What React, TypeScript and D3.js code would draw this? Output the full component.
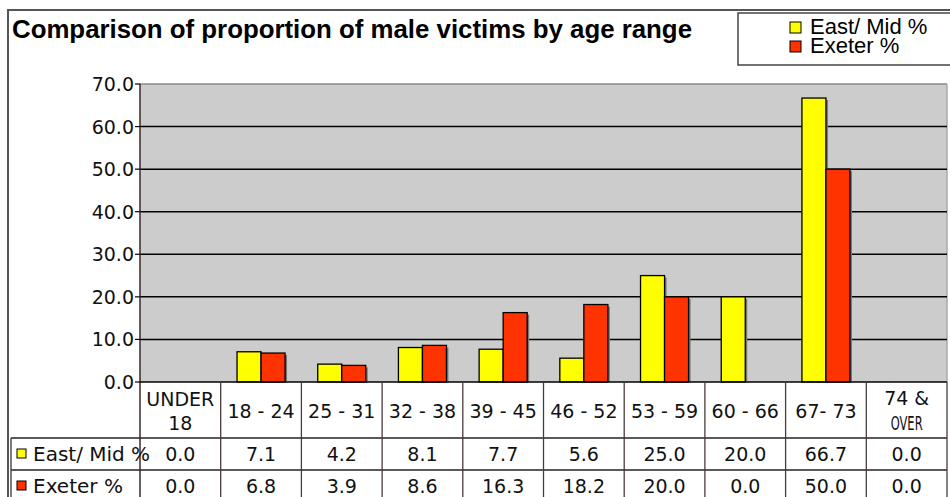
import { useEffect, useRef } from 'react';
import * as d3 from 'd3';

const categories = ['UNDER 18', '18 - 24', '25 - 31', '32 - 38', '39 - 45', '46 - 52', '53 - 59', '60 - 66', '67- 73', '74 & OVER'];
const seriesNames = ['East/ Mid %', 'Exeter %'];
const eastMid = [0.0, 7.1, 4.2, 8.1, 7.7, 5.6, 25.0, 20.0, 66.7, 0.0];
const exeter = [0.0, 6.8, 3.9, 8.6, 16.3, 18.2, 20.0, 0.0, 50.0, 0.0];
const yTicks = [0, 10, 20, 30, 40, 50, 60, 70];
const seriesColors = ['#ffff00', '#ff3300'];

export default function App() {
  const svgRef = useRef<SVGSVGElement>(null);

  useEffect(() => {
    if (!svgRef.current) return;
    const W = 950;
    const H = 497;
    const plot = { left: 140, right: 947, top: 84, bottom: 382 };
    const rowTops = [382, 438, 470, 502];
    const tableFont = '"DejaVu Sans", Verdana, sans-serif';
    const titleFont = '"Liberation Sans", Arial, sans-serif';

    const svg = d3.select(svgRef.current);
    svg.selectAll('*').remove();
    svg.attr('width', W).attr('height', H);

    svg.append('rect').attr('width', W).attr('height', H).attr('fill', '#fff');

    // outer frame
    svg.append('rect')
      .attr('x', 8).attr('y', 10).attr('width', 960).attr('height', 520)
      .attr('fill', 'none').attr('stroke', '#555').attr('stroke-width', 2);

    const x = d3.scaleBand<string>().domain(categories).range([plot.left, plot.right]).padding(0);
    const xs = d3.scaleBand<string>().domain(seriesNames).range([0, x.bandwidth()]).paddingInner(0).paddingOuter(0.68);
    const y = d3.scaleLinear().domain([0, 70]).range([plot.bottom, plot.top]);

    // plot background
    svg.append('rect')
      .attr('x', plot.left).attr('y', plot.top)
      .attr('width', plot.right - plot.left).attr('height', plot.bottom - plot.top)
      .attr('fill', '#cccccc');
    svg.append('line')
      .attr('x1', plot.left).attr('x2', plot.right).attr('y1', plot.top).attr('y2', plot.top)
      .attr('stroke', '#888').attr('stroke-width', 1.5);
    svg.append('line')
      .attr('x1', plot.right).attr('x2', plot.right).attr('y1', plot.top).attr('y2', plot.bottom)
      .attr('stroke', '#aaa').attr('stroke-width', 1.5);

    // gridlines
    svg.append('g').selectAll('line')
      .data(yTicks.filter(t => t > 0 && t < 70))
      .enter().append('line')
      .attr('x1', plot.left).attr('x2', plot.right)
      .attr('y1', d => y(d)).attr('y2', d => y(d))
      .attr('stroke', '#000').attr('stroke-width', 1.5);

    // bars
    const series = [eastMid, exeter];
    series.forEach((vals, si) => {
      const g = svg.append('g');
      const data = vals.map((v, i) => ({ cat: categories[i], v })).filter(d => d.v > 0);
      g.selectAll('rect.shadow')
        .data(data)
        .enter().append('rect')
        .attr('class', 'shadow')
        .attr('x', d => (x(d.cat) as number) + (xs(seriesNames[si]) as number) + 2)
        .attr('y', d => y(d.v) + 2)
        .attr('width', xs.bandwidth())
        .attr('height', d => Math.max(0, plot.bottom - y(d.v) - 2))
        .attr('fill', '#777');
      g.selectAll('rect.bar')
        .data(data)
        .enter().append('rect')
        .attr('class', 'bar')
        .attr('x', d => (x(d.cat) as number) + (xs(seriesNames[si]) as number))
        .attr('y', d => y(d.v))
        .attr('width', xs.bandwidth())
        .attr('height', d => plot.bottom - y(d.v))
        .attr('fill', seriesColors[si])
        .attr('stroke', '#000').attr('stroke-width', 1.3);
    });

    // y axis
    svg.append('line')
      .attr('x1', plot.left).attr('x2', plot.left).attr('y1', plot.top).attr('y2', rowTops[3])
      .attr('stroke', '#3a2a2a').attr('stroke-width', 1.5);
    const yAxis = svg.append('g');
    yAxis.selectAll('line')
      .data(yTicks).enter().append('line')
      .attr('x1', plot.left - 5).attr('x2', plot.left)
      .attr('y1', d => y(d)).attr('y2', d => y(d))
      .attr('stroke', '#000').attr('stroke-width', 1.2);
    yAxis.selectAll('text')
      .data(yTicks).enter().append('text')
      .attr('x', plot.left - 6)
      .attr('y', d => y(d) + 7)
      .attr('text-anchor', 'end')
      .style('font-family', tableFont)
      .style('font-size', '19px')
      .style('fill', '#111')
      .text(d => d3.format('.1f')(d));

    // data table grid
    const grid = svg.append('g');
    grid.append('line')
      .attr('x1', plot.left).attr('x2', plot.right).attr('y1', rowTops[0]).attr('y2', rowTops[0])
      .attr('stroke', '#000').attr('stroke-width', 1.5);
    [rowTops[1], rowTops[2]].forEach(ry => {
      grid.append('line')
        .attr('x1', 11).attr('x2', plot.right).attr('y1', ry).attr('y2', ry)
        .attr('stroke', '#222').attr('stroke-width', 1.3);
    });
    grid.append('line')
      .attr('x1', 11).attr('x2', 11).attr('y1', rowTops[1]).attr('y2', rowTops[3])
      .attr('stroke', '#333').attr('stroke-width', 1.3);
    grid.selectAll('line.vcat')
      .data(categories.slice(1).map(c => x(c) as number).concat([plot.right]))
      .enter().append('line')
      .attr('class', 'vcat')
      .attr('x1', d => d).attr('x2', d => d)
      .attr('y1', rowTops[0]).attr('y2', rowTops[3])
      .attr('stroke', '#4a3a3a').attr('stroke-width', 1.3);

    // category header labels
    const header = svg.append('g')
      .style('font-family', tableFont)
      .style('font-size', '19px')
      .style('fill', '#111');
    categories.forEach(c => {
      const cx = (x(c) as number) + x.bandwidth() / 2;
      if (c === 'UNDER 18') {
        header.append('text').attr('x', cx).attr('y', 406).attr('text-anchor', 'middle').text('UNDER');
        header.append('text').attr('x', cx).attr('y', 430).attr('text-anchor', 'middle').text('18');
      } else if (c === '74 & OVER') {
        header.append('text').attr('x', cx).attr('y', 405).attr('text-anchor', 'middle').text('74 &');
        header.append('text').attr('x', cx).attr('y', 430).attr('text-anchor', 'middle')
          .attr('textLength', 32).attr('lengthAdjust', 'spacingAndGlyphs').text('OVER');
      } else {
        header.append('text').attr('x', cx).attr('y', 418).attr('text-anchor', 'middle').text(c);
      }
    });

    // value rows
    series.forEach((vals, si) => {
      const rowMid = (rowTops[si + 1] + rowTops[si + 2]) / 2;
      const row = svg.append('g')
        .style('font-family', tableFont)
        .style('font-size', '19px')
        .style('fill', '#111');
      row.append('rect')
        .attr('x', 17).attr('y', rowMid - 5).attr('width', 9).attr('height', 9)
        .attr('fill', seriesColors[si]).attr('stroke', '#000').attr('stroke-width', 1);
      row.append('text').attr('x', 33).attr('y', rowMid + 7)
        .style('font-size', '20px').text(seriesNames[si]);
      row.selectAll('text.val')
        .data(vals.map((v, i) => ({ cat: categories[i], v })))
        .enter().append('text')
        .attr('class', 'val')
        .attr('x', d => (x(d.cat) as number) + x.bandwidth() / 2)
        .attr('y', rowMid + 7)
        .attr('text-anchor', 'middle')
        .text(d => d3.format('.1f')(d.v));
    });

    // title
    svg.append('text')
      .attr('x', 12).attr('y', 38)
      .attr('textLength', 680).attr('lengthAdjust', 'spacingAndGlyphs')
      .style('font-family', titleFont)
      .style('font-size', '25px')
      .style('font-weight', 'bold')
      .style('fill', '#000')
      .text('Comparison of proportion of male victims by age range');

    // legend
    const legend = svg.append('g');
    legend.append('rect')
      .attr('x', 738).attr('y', 13).attr('width', 230).attr('height', 52)
      .attr('fill', '#fff').attr('stroke', '#444').attr('stroke-width', 1.5);
    seriesNames.forEach((name, i) => {
      const base = 34 + i * 19;
      legend.append('rect')
        .attr('x', 790).attr('y', base - 12).attr('width', 11).attr('height', 11)
        .attr('fill', seriesColors[i]).attr('stroke', '#000').attr('stroke-width', 1);
      legend.append('text')
        .attr('x', 810).attr('y', base)
        .style('font-family', titleFont)
        .style('font-size', '22px')
        .style('fill', '#000')
        .text(name);
    });
  }, []);

  return <svg ref={svgRef} style={{ position: 'absolute', left: 0, top: 0 }}></svg>;
}
